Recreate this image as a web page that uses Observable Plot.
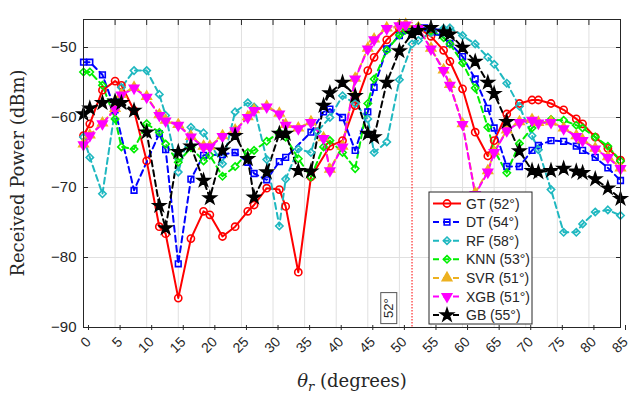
<!DOCTYPE html>
<html>
<head>
<meta charset="utf-8">
<script src="https://cdn.jsdelivr.net/npm/d3@7"></script>
<script src="https://cdn.jsdelivr.net/npm/@observablehq/plot@0.6"></script>
<style>
  html, body { margin: 0; padding: 0; background: #fff; }
  #chart { position: relative; width: 641px; height: 397px; }
</style>
</head>
<body>
<div id="chart"></div>
<script>
// ---------- data ----------
const seriesNames = ["GT", "DT", "RF", "KNN", "SVR", "XGB", "GB"];
const peakLabels = ["52°", "54°", "58°", "53°", "51°", "51°", "55°"];
const xTicks = [0, 5, 10, 15, 20, 25, 30, 35, 40, 45, 50, 55, 60, 65, 70, 75, 80, 85];
const yTicks = [-90, -80, -70, -60, -50];
const markerAngle = 52;
const markerLabel = "52°";

const gtX = [0,1,3,5,6,8,10,12,13,15,17,19,20,22,24,26,27,29,31,32,34,36,39,41,43,45,46,48,50,51,53,55,57,58,60,62,64,65,67,69,71,72,74,76,78,79,81,83,85];
const gtY = [-62.6,-60.9,-56.1,-54.8,-55.4,-59.0,-66.2,-75.6,-76.6,-85.8,-77.3,-73.4,-73.9,-77.0,-75.6,-73.4,-72.5,-70.1,-70.3,-72.7,-82.1,-68.5,-64.1,-63.3,-58.3,-53.3,-51.4,-48.9,-47.3,-47.0,-47.2,-48.4,-50.4,-52.0,-55.9,-62.1,-65.5,-63.3,-59.5,-58.0,-57.5,-57.5,-58.0,-58.9,-60.2,-60.9,-62.8,-64.4,-66.1];

const dtX = [0,1,3,5,8,12,13,15,17,19,22,24,26,27,29,31,32,36,38,39,41,43,45,46,48,50,52,54,56,58,60,62,64,65,67,69,71,72,74,76,78,79,81,83,85];
const dtY = [-52.1,-52.1,-53.9,-58.9,-70.4,-62.3,-64.6,-80.9,-68.8,-65.4,-65.3,-65.0,-66.4,-68.0,-68.9,-66.3,-65.7,-62.1,-59.2,-58.8,-60.0,-64.7,-59.2,-55.7,-50.2,-48.3,-47.6,-47.2,-47.8,-49.4,-51.3,-54.5,-58.7,-61.5,-67.0,-67.0,-64.7,-64.0,-63.3,-63.4,-64.1,-64.7,-65.7,-67.2,-69.0];

const rfX = [0,1,3,5,6,8,10,12,13,15,17,19,22,24,26,27,29,31,32,34,36,37,39,41,43,45,46,48,50,52,53,55,57,58,60,62,64,65,67,69,71,72,74,76,78,79,81,83,85];
const rfY = [-62.8,-65.7,-70.9,-58.8,-55.7,-53.3,-53.3,-56.7,-59.7,-67.8,-61.4,-62.2,-66.6,-59.2,-57.9,-58.5,-66.0,-75.5,-68.8,-64.5,-65.0,-62.0,-60.0,-56.9,-58.0,-60.2,-65.0,-63.5,-54.6,-49.5,-49.0,-47.9,-47.3,-47.2,-48.3,-49.5,-51.4,-52.4,-55.1,-58.4,-62.6,-64.6,-70.3,-76.4,-76.4,-75.2,-73.5,-73.2,-74.0];

const knnX = [0,1,3,5,6,8,10,12,13,15,17,19,20,22,24,26,27,29,31,32,34,36,38,39,41,43,45,46,48,50,51,53,55,57,58,60,62,64,65,67,69,71,72,74,76,78,79,81,83,85];
const knnY = [-53.5,-53.5,-55.4,-60.2,-64.2,-64.5,-60.9,-62.1,-63.8,-66.4,-64.3,-66.2,-65.4,-68.4,-67.0,-65.0,-64.7,-63.4,-62.1,-62.8,-65.9,-68.5,-64.2,-63.3,-65.0,-67.3,-58.0,-54.5,-50.4,-48.2,-47.5,-47.0,-47.6,-48.6,-49.5,-52.2,-55.8,-61.4,-64.7,-67.9,-63.7,-61.5,-60.7,-60.3,-60.4,-61.1,-61.5,-62.8,-64.1,-66.2];

const svrX = [0,1,3,5,6,8,10,12,13,15,17,19,20,22,24,26,27,29,31,32,34,36,38,39,41,43,45,46,48,50,51,53,55,57,58,60,62,64,65,67,69,71,72,74,76,78,79,81,83,85];
const svrY = [-63.8,-62.5,-60.8,-58.7,-56.7,-55.7,-57.0,-59.6,-60.4,-61.0,-62.7,-64.1,-64.1,-62.6,-61.8,-59.9,-58.9,-58.4,-59.4,-61.0,-61.5,-60.6,-62.9,-67.4,-64.1,-54.4,-50.1,-48.8,-47.2,-46.8,-46.7,-47.2,-50.1,-53.2,-55.3,-60.9,-70.8,-67.6,-64.9,-61.8,-60.6,-60.3,-60.7,-60.6,-61.5,-62.6,-63.2,-64.4,-65.6,-67.2];

const xgbX = [0,1,3,5,6,8,10,12,13,15,17,19,20,22,24,26,27,29,31,32,34,36,38,39,41,43,45,46,48,50,51,53,55,57,58,60,62,64,65,67,69,71,72,74,76,78,79,81,83,85];
const xgbY = [-63.9,-62.6,-60.9,-58.8,-56.8,-55.8,-57.1,-59.7,-60.5,-61.1,-62.8,-64.2,-64.2,-62.7,-61.9,-60.0,-59.0,-58.5,-59.5,-61.1,-61.6,-60.7,-63.0,-67.6,-64.2,-54.5,-50.2,-48.9,-47.3,-46.9,-46.8,-47.3,-50.2,-53.3,-55.4,-61.0,-71.0,-67.8,-65.0,-61.9,-60.7,-60.4,-60.8,-60.7,-61.6,-62.7,-63.3,-64.5,-65.7,-67.3];

const gbX = [0,1,3,5,6,8,10,12,13,15,17,19,20,22,24,26,27,29,31,32,34,36,38,39,41,43,45,46,48,50,52,53,55,57,58,60,62,64,65,67,69,71,72,74,76,78,79,81,83,85];
const gbY = [-59.5,-58.7,-57.9,-57.7,-57.9,-59.0,-62.1,-72.6,-75.8,-64.9,-64.1,-69.0,-71.5,-64.7,-62.6,-65.9,-71.4,-67.8,-62.3,-62.3,-67.6,-67.7,-58.3,-56.5,-55.0,-56.9,-62.3,-62.8,-55.0,-50.5,-48.0,-47.6,-47.2,-47.8,-48.1,-50.0,-52.0,-55.0,-56.6,-60.6,-64.8,-67.6,-67.8,-67.6,-67.3,-67.7,-67.9,-68.8,-70.1,-71.6];

// ---------- styles ----------
const styles = [
  {color: "#ff0000", dash: null,  symbol: "circle",   fill: "none",     r: 3.6, rotate: 0},
  {color: "#0000ff", dash: "6,4", symbol: "square",   fill: "none",     r: 3.2, rotate: 0},
  {color: "#1fb8c0", dash: "6,4", symbol: "diamond2", fill: "none",     r: 3.3, rotate: 0},
  {color: "#00ee00", dash: "6,4", symbol: "diamond2", fill: "none",     r: 3.3, rotate: 0},
  {color: "#edb120", dash: "6,4", symbol: "triangle", fill: "#edb120",  r: 3.5, rotate: 0},
  {color: "#ff00ff", dash: "6,4", symbol: "triangle", fill: "#ff00ff",  r: 3.5, rotate: 180},
  {color: "#000000", dash: "6,4", symbol: "star",     fill: "#000000",  r: 3.9, rotate: 0}
];

const xs = [gtX, dtX, rfX, knnX, svrX, xgbX, gbX];
const ys = [gtY, dtY, rfY, knnY, svrY, xgbY, gbY];
const series = seriesNames.map((name, i) => xs[i].map((x, j) => ({name, x, y: ys[i][j]})));

const marks = [
  Plot.gridX(xTicks, {stroke: "#e0e0e0", strokeOpacity: 1}),
  Plot.gridY(yTicks, {stroke: "#e0e0e0", strokeOpacity: 1}),
  Plot.ruleX([markerAngle], {stroke: "#ff0000", strokeWidth: 1, strokeDasharray: "1.5,1.5"})
];
series.forEach((data, i) => {
  const s = styles[i];
  marks.push(Plot.line(data, {x: "x", y: "y", stroke: s.color, strokeWidth: 2, strokeDasharray: s.dash, clip: true}));
});
series.forEach((data, i) => {
  const s = styles[i];
  marks.push(Plot.dot(data, {x: "x", y: "y", symbol: () => s.symbol, r: s.r, stroke: s.color, strokeWidth: 1.6, fill: s.fill, rotate: s.rotate}));
});
marks.push(
  Plot.axisX(xTicks, {anchor: "bottom", tickSize: -5, tickPadding: 14, tickRotate: -45, label: null, fontSize: 14, dx: 5, dy: 3}),
  Plot.axisX(xTicks, {anchor: "top", tickSize: -5, tickFormat: () => "", label: null}),
  Plot.axisY(yTicks, {anchor: "left", tickSize: -5, tickPadding: 12, label: null, fontSize: 15}),
  Plot.axisY(yTicks, {anchor: "right", tickSize: -5, tickFormat: () => "", label: null}),
  Plot.frame({stroke: "#262626", strokeWidth: 1})
);

const svg = Plot.plot({
  width: 641,
  height: 397,
  marginLeft: 83,
  marginRight: 21,
  marginTop: 19,
  marginBottom: 70,
  x: {domain: [0, 85]},
  y: {domain: [-90, -46]},
  symbol: {type: "identity"},
  style: {fontFamily: "'Liberation Sans', Arial, sans-serif", fontSize: "14px", color: "#262626", background: "#fff"},
  marks
});
document.getElementById("chart").appendChild(svg);

// ---------- annotations ----------
const sx = svg.scale("x"), sy = svg.scale("y");
const root = d3.select(svg);

// "52°" boxed label
const bx = sx.apply(48.4), by = sy.apply(-87.3);
const ann = root.append("g").attr("transform", `translate(${bx},${by}) rotate(-90)`);
ann.append("rect").attr("x", -15.5).attr("y", -8).attr("width", 31).attr("height", 16)
  .attr("fill", "#fff").attr("stroke", "#555").attr("stroke-width", 1);
ann.append("text").attr("text-anchor", "middle").attr("dy", "0.35em")
  .attr("font-family", "'Liberation Sans', Arial, sans-serif").attr("font-size", 13).attr("fill", "#262626")
  .text(markerLabel);

// axis labels
root.append("text")
  .attr("transform", "translate(24,173) rotate(-90)")
  .attr("text-anchor", "middle")
  .attr("font-family", "'DejaVu Serif', serif").attr("font-size", 18).attr("fill", "#262626")
  .text("Received Power (dBm)");
const xl = root.append("text")
  .attr("x", 352).attr("y", 387)
  .attr("text-anchor", "middle")
  .attr("font-family", "'DejaVu Serif', serif").attr("font-size", 18).attr("fill", "#262626");
xl.append("tspan").attr("font-style", "italic").text("θ");
xl.append("tspan").attr("font-style", "italic").attr("font-size", 13).attr("dy", 4).text("r");
xl.append("tspan").attr("dy", -4).text(" (degrees)");

// legend
const lg = root.append("g").attr("text-anchor", "start");
const lx0 = 429, ly0 = 192, lw = 103, lh = 132, rowH = 18.6, firstRow = 203.5;
lg.append("rect").attr("x", lx0).attr("y", ly0).attr("width", lw).attr("height", lh)
  .attr("fill", "#fff").attr("stroke", "#262626").attr("stroke-width", 1);
const symMap = {circle: d3.symbolCircle, square: d3.symbolSquare, diamond2: d3.symbolDiamond2, triangle: d3.symbolTriangle, star: d3.symbolStar};
seriesNames.forEach((name, i) => {
  const s = styles[i];
  const yy = firstRow + i * rowH;
  lg.append("line").attr("x1", 433).attr("x2", 461).attr("y1", yy).attr("y2", yy)
    .attr("stroke", s.color).attr("stroke-width", 2).attr("stroke-dasharray", s.dash);
  lg.append("path").attr("d", d3.symbol(symMap[s.symbol], Math.PI * s.r * s.r)())
    .attr("transform", `translate(447,${yy}) rotate(${s.rotate})`)
    .attr("fill", s.fill).attr("stroke", s.color).attr("stroke-width", 1.6);
  lg.append("text").attr("x", 466).attr("y", yy).attr("dy", "0.36em").attr("text-anchor", "start")
    .attr("font-family", "'Liberation Sans', Arial, sans-serif").attr("font-size", 14).attr("fill", "#262626")
    .text(`${name} (${peakLabels[i]})`);
});
</script>
</body>
</html>
